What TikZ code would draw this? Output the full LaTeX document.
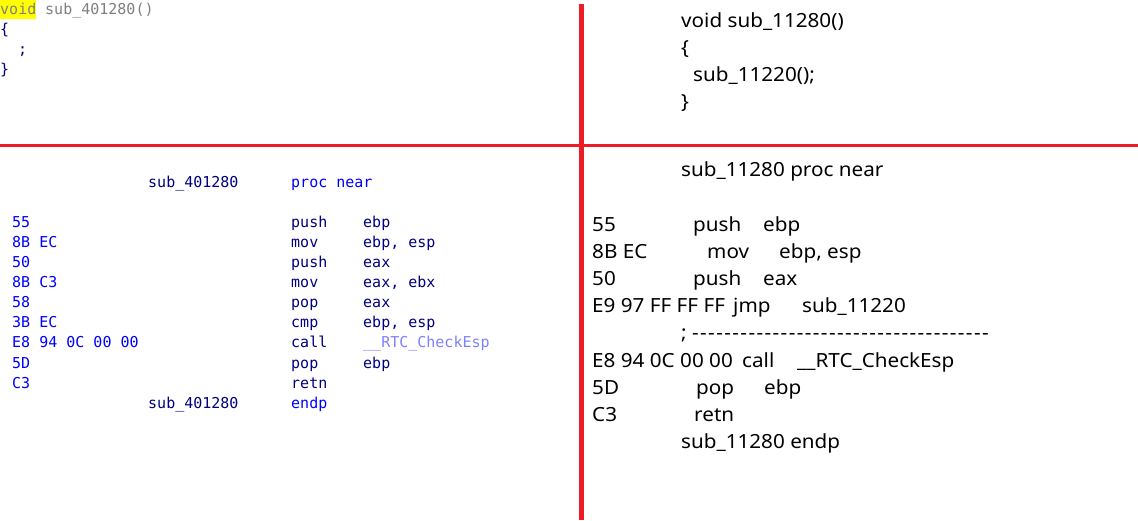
\documentclass[tikz,border=0pt]{standalone}
\usepackage{fontspec}
\setmonofont{DejaVu Sans Mono}
\newfontfamily\yahei{Noto Sans}[FakeStretch=1.06]
\usetikzlibrary{positioning}
\definecolor{idablue}{HTML}{0000FF}
\definecolor{idanavy}{HTML}{000080}
\definecolor{idagray}{HTML}{808080}
\definecolor{idaref}{HTML}{8080FF}
\definecolor{hlyellow}{HTML}{FFFF00}
\definecolor{markred}{HTML}{ED1C24}
\newcommand\dashrun[1]{\foreach\k in {1,...,#1}{-\kern1.4pt}}

\begin{document}
\begin{tikzpicture}[x=1pt,y=-1pt,
asm/.style={anchor=base west,inner sep=0pt,font=\fontsize{15}{18}\ttfamily},
src/.style={anchor=base west,inner sep=0pt,font=\fontsize{19.5}{24}\yahei},
markline/.style={draw=markred}]
\fill[white] (0,0) rectangle (1138,521);
\useasboundingbox (0,0) rectangle (1138,521);

% decompiled, left
\node[asm,fill=hlyellow,text=idagray,text height=15pt,text depth=4pt] (lvoid) at (0,15) {void};
\node[asm,text=idagray] (lname) at (45,15) {sub\_401280()};
\node[asm,text=idanavy] (lopen) at (0,35) {\{};
\node[asm,text=idanavy] (lbody) at (18,55) {;};
\node[asm,text=idanavy] (lclose) at (0,75) {\}};

% decompiled, right
\node[src] (rvoid) at (681,28) {void sub\_11280()};
\node[src] (ropen) at (681,55) {\{};
\node[src] (rbody) at (693,82) {sub\_11220();};
\node[src] (rclose) at (681,109) {\}};

% listing, left
\node[asm,text=idanavy] (lproc) at (148,188) {sub\_401280};
\node[asm,text=idablue] (lnear) at (291,188) {proc near};
\foreach \y/\hex/\mn/\arg/\col [count=\i] in {
  228/55/push/ebp/idanavy,
  248/8B EC/mov/{ebp, esp}/idanavy,
  268/50/push/eax/idanavy,
  288/8B C3/mov/{eax, ebx}/idanavy,
  308/58/pop/eax/idanavy,
  328/3B EC/cmp/{ebp, esp}/idanavy,
  348/E8 94 0C 00 00/call/\_\_RTC\_CheckEsp/idaref,
  368/5D/pop/ebp/idanavy,
  388/C3/retn//idanavy}
{
  \node[asm,text=idablue] (lhex\i) at (12,\y) {\hex};
  \node[asm,text=idanavy] (lmn\i) at (291,\y) {\mn};
  \node[asm,text=\col] (larg\i) at (363,\y) {\arg};
}
\node[asm,text=idanavy] (lend) at (148,408) {sub\_401280};
\node[asm,text=idablue] (lendp) at (291,408) {endp};

% listing, right
\node[src] (rproc) at (681,177) {sub\_11280 proc near};
\foreach \y/\hex/\xm/\mn/\xa/\arg [count=\i] in {
  232/55/693/push/763/ebp,
  259/8B EC/707/mov/779/{ebp, esp},
  286/50/693/push/763/eax,
  313/E9 97 FF FF FF/733/jmp/802/sub\_11220,
  367/E8 94 0C 00 00/742/call/797/\_\_RTC\_CheckEsp,
  394/5D/696/pop/764/ebp,
  421/C3/694/retn/764/}
{
  \node[src] (rhex\i) at (592,\y) {\hex};
  \node[src] (rmn\i) at (\xm,\y) {\mn};
  \node[src] (rarg\i) at (\xa,\y) {\arg};
}
\node[src] (rsep) at (681,340) {; \dashrun{37}};
\node[src] (rend) at (681,448) {sub\_11280 endp};

% red marks
\coordinate (vtop) at (581,4);
\coordinate (vbot) at (581,520);
\coordinate (hleft) at (0,145.5);
\coordinate (hright) at (1138,145.5);
\draw[markline,line width=3pt] (hleft) -- (hright);
\draw[markline,line width=5pt] (vtop) -- (vbot);
\end{tikzpicture}
\end{document}
